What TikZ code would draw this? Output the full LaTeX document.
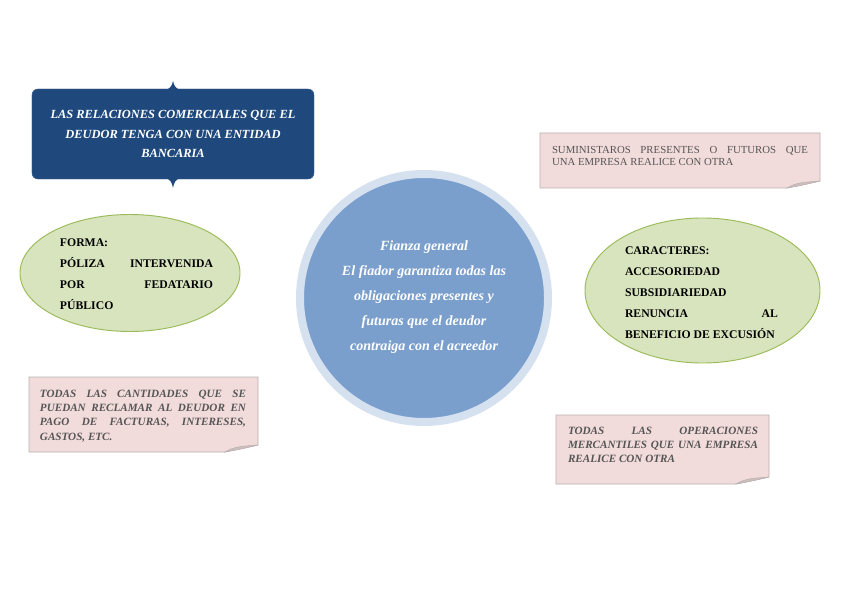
\documentclass[tikz,border=0pt]{standalone}
\usepackage{fontspec}
\setmainfont{Liberation Serif}
\usetikzlibrary{shapes.geometric}
\definecolor{cdarkblue}{RGB}{31,73,125}
\definecolor{cring}{RGB}{214,225,240}
\definecolor{ccircle}{RGB}{122,159,205}
\definecolor{cgreenfill}{RGB}{215,228,189}
\definecolor{cgreenedge}{RGB}{155,187,89}
\definecolor{cpinkfill}{RGB}{242,220,219}
\definecolor{cpinkedge}{RGB}{185,175,175}
\definecolor{cfold}{RGB}{205,190,190}
\definecolor{cnotetext}{RGB}{85,85,85}
\newcommand{\foldnote}[4]{%
  \fill[cpinkfill,draw=cpinkedge,line width=0.6pt]
    (#1,#2)--(#3,#2)--(#3,{#4-7})--({#3-33},#4)--(#1,#4)--cycle;
  \fill[cfold,draw=cpinkedge,line width=0.4pt]
    ({#3-33},#4)..controls ({#3-20},{#4-2}) and ({#3-8},{#4-5})..(#3,{#4-7})
    ..controls ({#3-12},{#4-6}) and ({#3-24},{#4-6})..({#3-33},#4)--cycle;}

\begin{document}
\begin{tikzpicture}[
  x=0.03cm,y=-0.03cm,
  bluebox/.style={rectangle,rounded corners=5pt,fill=cdarkblue,draw=cdarkblue!85!white,
    minimum width=8.46cm,minimum height=2.7cm},
  greenoval/.style={ellipse,fill=cgreenfill,draw=cgreenedge,line width=0.8pt,inner sep=0pt},
  ovaltext/.style={text width=4.59cm,align=justify,inner sep=0pt,
    font=\fontsize{10}{17.85}\selectfont\bfseries},
  notetext/.style={inner sep=0pt,text=cnotetext,align=justify},
]
\useasboundingbox (0,0) rectangle (848,599);

% ===== TITLE BOX =====
\node[bluebox] (relbox) at (173,134) {};
\fill[cdarkblue] (165,90)..controls (170,89) and (172,86)..(173,81)
  ..controls (174,86) and (176,89)..(181,90)--cycle;
\fill[cdarkblue] (165,178)..controls (170,179) and (172,182)..(173,188)
  ..controls (174,182) and (176,179)..(181,178)--cycle;
\node[text=white,align=center,inner sep=0pt,
      font=\fontsize{10.6}{17}\selectfont\bfseries\itshape] (reltxt) at (173,134)
  {LAS RELACIONES COMERCIALES QUE EL\\DEUDOR TENGA CON UNA ENTIDAD\\BANCARIA};

% ===== CENTRE CIRCLE =====
\node[circle,fill=ccircle,draw=cring,line width=0.24cm,minimum size=7.44cm] (fianza) at (424,298) {};
\node[text=white,align=center,inner sep=0pt,
      font=\fontsize{12}{21.25}\selectfont\bfseries\itshape] (fianzatxt) at (424,297)
  {Fianza general\\El fiador garantiza todas las\\obligaciones presentes y\\futuras que el deudor\\contraiga con el acreedor};

% ===== OVALS =====
\node[greenoval,minimum width=6.6cm,minimum height=3.51cm] (forma) at (130,273) {};
\node[ovaltext] (formatxt) at (136.5,274)
  {FORMA:\\PÓLIZA INTERVENIDA\linebreak POR FEDATARIO\linebreak PÚBLICO};
\node[greenoval,minimum width=7.05cm,minimum height=4.35cm] (caract) at (702.5,290.5) {};
\node[ovaltext] (caracttxt) at (701.5,293)
  {CARACTERES:\\ACCESORIEDAD\\SUBSIDIARIEDAD\\RENUNCIA AL\linebreak BENEFICIO DE EXCUSIÓN};

% ===== NOTES =====
\foldnote{540}{133}{820}{188}
\node[notetext,text width=7.68cm,font=\fontsize{9.2}{11}\selectfont] (suministros) at (680,156)
  {SUMINISTAROS PRESENTES O FUTUROS QUE\linebreak UNA EMPRESA REALICE CON OTRA};
\foldnote{29}{377}{258}{452}
\node[notetext,text width=6.18cm,font=\fontsize{9.5}{12.2}\selectfont\bfseries\itshape] (cantidades) at (143,416)
  {TODAS LAS CANTIDADES QUE SE\linebreak PUEDAN RECLAMAR AL DEUDOR EN\linebreak PAGO DE FACTURAS, INTERESES,\linebreak GASTOS, ETC.};
\foldnote{556}{415}{769}{484}
\node[notetext,text width=5.7cm,font=\fontsize{9.5}{11.9}\selectfont\bfseries\itshape] (operaciones) at (663,445)
  {TODAS LAS OPERACIONES\linebreak MERCANTILES QUE UNA EMPRESA\linebreak REALICE CON OTRA};

\end{tikzpicture}
\end{document}
